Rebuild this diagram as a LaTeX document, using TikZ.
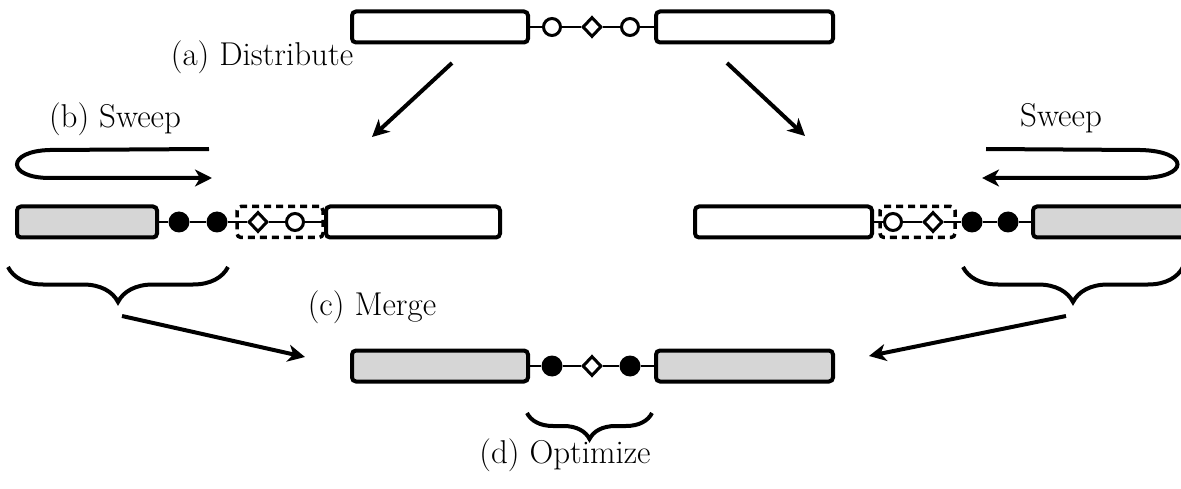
\documentclass[tikz,border=0pt]{standalone}
\usetikzlibrary{shapes.geometric,arrows.meta,decorations.pathreplacing}
\definecolor{boxgray}{RGB}{214,214,214}
\begin{document}
\begin{tikzpicture}[x=1pt,y=-1pt,
  blk/.style={draw, line width=4pt, rounded corners=4pt, minimum height=31pt, inner sep=0pt, outer sep=0pt},
  wbox/.style={blk, fill=white},
  gbox/.style={blk, fill=boxgray},
  ocirc/.style={circle, draw, line width=3pt, fill=white, minimum size=17pt, inner sep=0pt},
  fcirc/.style={circle, fill=black, minimum size=21pt, inner sep=0pt},
  dia/.style={diamond, draw, line width=3pt, fill=white, minimum width=19pt, minimum height=20pt, inner sep=0pt},
  dashbox/.style={draw, dashed, dash pattern=on 7pt off 5pt, line width=3.5pt, rounded corners=4pt, minimum height=31pt, inner sep=0pt},
  conn/.style={line width=2.5pt},
  arr/.style={line width=4pt, -{Stealth[length=17pt, width=17pt, inset=5pt]}},
  brc/.style={line width=4pt, decorate, decoration={brace, mirror, amplitude=#1}},
  lbl/.style={font=\fontsize{33}{38}\selectfont, anchor=base, inner sep=0pt}
]
\useasboundingbox (0,0) rectangle (1181,489);
\clip (0,0) rectangle (1181,489);

% ---------- row 1 ----------
\node[wbox, minimum width=176pt] (t1) at (440,27) {};
\node[wbox, minimum width=177pt] (t2) at (744.5,27) {};
\node[ocirc] (tc1) at (552,27) {};
\node[dia] (td) at (592,27) {};
\node[ocirc] (tc2) at (630,27) {};
\draw[conn] (t1.east) -- (tc1) -- (td) -- (tc2) -- (t2.west);

% ---------- row 2 left ----------
\node[gbox, minimum width=140pt] (l1) at (87,222) {};
\node[wbox, minimum width=174pt] (l2) at (413,222) {};
\node[dashbox, minimum width=86pt] (ldash) at (280,222) {};
\node[fcirc] (lf1) at (179,222) {};
\node[fcirc] (lf2) at (217,222) {};
\node[dia] (ld) at (258,222) {};
\node[ocirc] (lc) at (295,222) {};
\draw[conn] (l1.east) -- (lf1) -- (lf2) -- (ld) -- (lc) -- (l2.west);

% ---------- row 2 right ----------
\node[wbox, minimum width=177pt] (r1) at (783.5,222) {};
\node[gbox, minimum width=176pt] (r2) at (1121,222) {};
\node[dashbox, minimum width=75pt] (rdash) at (917.5,222) {};
\node[ocirc] (rc) at (893,222) {};
\node[dia] (rd) at (933,222) {};
\node[fcirc] (rf1) at (972,222) {};
\node[fcirc] (rf2) at (1008,222) {};
\draw[conn] (r1.east) -- (rc) -- (rd) -- (rf1) -- (rf2) -- (r2.west);

% ---------- row 3 ----------
\node[gbox, minimum width=176pt] (b1) at (440,366) {};
\node[gbox, minimum width=177pt] (b2) at (744.5,366) {};
\node[fcirc] (bf1) at (552,366) {};
\node[dia] (bd) at (592,366) {};
\node[fcirc] (bf2) at (630,366) {};
\draw[conn] (b1.east) -- (bf1) -- (bd) -- (bf2) -- (b2.west);

% ---------- labels ----------
\node[lbl] (la) at (262,66) {(a) Distribute};
\node[lbl] (lb) at (115,128) {(b) Sweep};
\node[lbl] (lsw) at (1061,127) {Sweep};
\node[lbl] (lcm) at (372,316) {(c) Merge};
\node[lbl] (lopt) at (565,463) {(d) Optimize};

% ---------- distribute arrows ----------
\coordinate (a1s) at (452,63);
\coordinate (a1e) at (372,137);
\coordinate (a2s) at (727,63);
\coordinate (a2e) at (805,136);
\draw[arr] (a1s) -- (a1e);
\draw[arr] (a2s) -- (a2e);

% ---------- sweep arrows ----------
\coordinate (s1s) at (209,149);
\coordinate (s1a) at (50,150);
\coordinate (s1b) at (50,178);
\coordinate (s1e) at (212,178);
\draw[arr] (s1s) -- (s1a) .. controls (6,151) and (6,178) .. (s1b) -- (s1e);
\coordinate (s2s) at (986,149);
\coordinate (s2a) at (1140,150);
\coordinate (s2b) at (1140,178);
\coordinate (s2e) at (982,178);
\draw[arr] (s2s) -- (s2a) .. controls (1190,151) and (1190,178) .. (s2b) -- (s2e);

% ---------- braces ----------
\coordinate (bl1) at (8,267);
\coordinate (bl2) at (228,267);
\draw[brc=35pt] (bl1) -- (bl2);
\coordinate (br1) at (963,267);
\coordinate (br2) at (1183,267);
\draw[brc=35pt] (br1) -- (br2);
\coordinate (bb1) at (527,413);
\coordinate (bb2) at (652,413);
\draw[brc=26pt] (bb1) -- (bb2);

% ---------- merge arrows ----------
\coordinate (m1s) at (122,316);
\coordinate (m1e) at (305,357);
\coordinate (m2s) at (1066,316);
\coordinate (m2e) at (869,356);
\draw[arr] (m1s) -- (m1e);
\draw[arr] (m2s) -- (m2e);
\end{tikzpicture}
\end{document}
